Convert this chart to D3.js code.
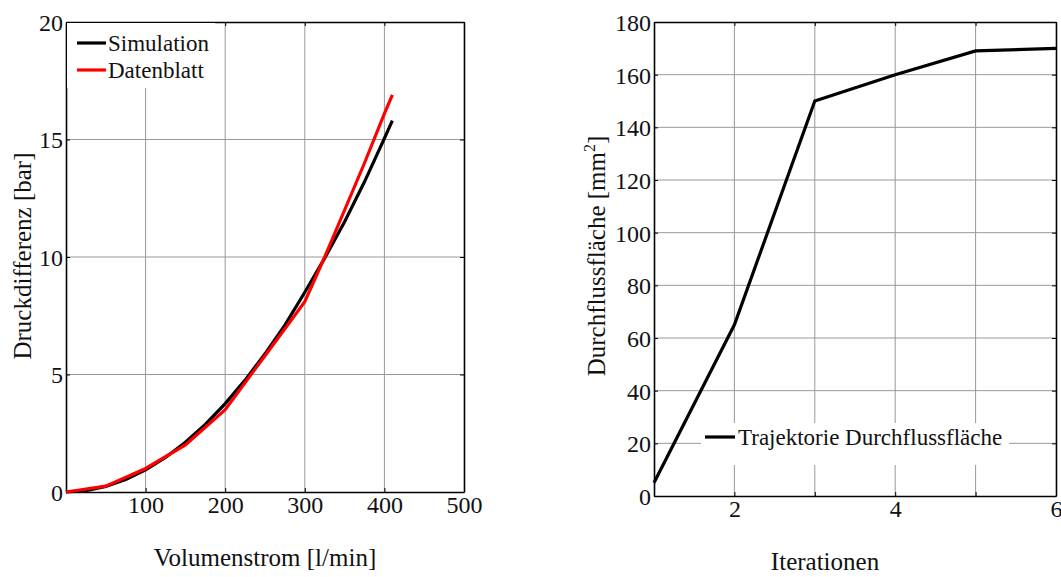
<!DOCTYPE html>
<html>
<head>
<meta charset="utf-8">
<script src="https://cdn.jsdelivr.net/npm/d3@7"></script>
<style>
  body { margin: 0; background: #fff; }
  svg text { font-family: "Liberation Serif", "Times New Roman", serif; fill: #111; }
</style>
</head>
<body>
<div id="chart"></div>
<script>
// Daten linkes Diagramm (Volumenstrom [l/min] -> Druckdifferenz [bar])
const simQ = [0, 25, 50, 75, 100, 125, 150, 175, 200, 225, 250, 275, 300, 325, 350, 375, 400, 410];
const simP = [0, 0.06, 0.24, 0.53, 0.94, 1.47, 2.12, 2.88, 3.76, 4.76, 5.88, 7.1, 8.5, 9.95, 11.5, 13.2, 15.05, 15.8];
const datQ = [0, 50, 100, 150, 200, 250, 300, 325, 350, 375, 400, 410];
const datP = [0, 0.25, 1.0, 2.0, 3.5, 5.8, 8.1, 10.0, 12.0, 14.0, 16.1, 16.9];
const leftXTicks = [0, 100, 200, 300, 400, 500];
const leftYTicks = [0, 5, 10, 15, 20];

// Daten rechtes Diagramm (Iterationen -> Durchflussfläche)
const iter = [1, 2, 3, 4, 5, 6];
const flaeche = [5, 65, 150, 160, 169, 170];
const rightXTicks = [1, 2, 3, 4, 5, 6];
const rightYTicks = [0, 20, 40, 60, 80, 100, 120, 140, 160, 180];

const width = 1061, height = 577;
const fsTick = 24, fsLeg = 23, fsTitle = 25;

const svg = d3.select("#chart").append("svg")
    .attr("width", width)
    .attr("height", height);

function panel(box, xDom, yDom, xTicks, yTicks, xLabelFilter) {
    const x = d3.scaleLinear().domain(xDom).range([box.x0, box.x1]);
    const y = d3.scaleLinear().domain(yDom).range([box.y1, box.y0]);
    const g = svg.append("g");

    // Gitter
    g.selectAll(".gx").data(xTicks.filter(t => t > xDom[0] && t < xDom[1])).enter()
        .append("line")
        .attr("x1", d => x(d)).attr("x2", d => x(d))
        .attr("y1", box.y0).attr("y2", box.y1)
        .attr("stroke", "#999").attr("stroke-width", 1);
    g.selectAll(".gy").data(yTicks.filter(t => t > yDom[0] && t < yDom[1])).enter()
        .append("line")
        .attr("y1", d => y(d)).attr("y2", d => y(d))
        .attr("x1", box.x0).attr("x2", box.x1)
        .attr("stroke", "#999").attr("stroke-width", 1);

    // Achsen mit Ticks nach innen
    const ax = [
        d3.axisBottom(x).tickValues(xTicks).tickSizeInner(-4).tickSizeOuter(0)
            .tickFormat(d => xLabelFilter(d) ? d : ""),
        d3.axisTop(x).tickValues(xTicks).tickSizeInner(-4).tickSizeOuter(0).tickFormat(""),
        d3.axisLeft(y).tickValues(yTicks).tickSizeInner(-4).tickSizeOuter(0),
        d3.axisRight(y).tickValues(yTicks).tickSizeInner(-4).tickSizeOuter(0).tickFormat("")
    ];
    const pos = [
        `translate(0,${box.y1})`, `translate(0,${box.y0})`,
        `translate(${box.x0},0)`, `translate(${box.x1},0)`
    ];
    ax.forEach((a, i) => {
        const ag = g.append("g").attr("transform", pos[i]).call(a);
        ag.select(".domain").attr("stroke", "#000").attr("stroke-width", 1.6);
        ag.selectAll(".tick line").attr("stroke", "#000");
        ag.selectAll("text").attr("font-size", fsTick)
            .attr("font-family", "Liberation Serif").attr("fill", "#111");
        if (i === 0) ag.selectAll("text").attr("y", 4).attr("dy", "0.71em");
        if (i === 2) ag.selectAll("text").attr("x", -3).attr("dy", "0.35em");
    });
    return {x, y, g};
}

// Linkes Diagramm
const L = panel({x0: 66, x1: 464, y0: 22, y1: 492}, [0, 500], [0, 20],
    leftXTicks, leftYTicks, d => d > 0);

const lineL = d3.line().x(d => L.x(d[0])).y(d => L.y(d[1]));
L.g.append("path").datum(d3.zip(simQ, simP))
    .attr("d", lineL).attr("fill", "none").attr("stroke", "#000").attr("stroke-width", 3.2);
L.g.append("path").datum(d3.zip(datQ, datP))
    .attr("d", lineL).attr("fill", "none").attr("stroke", "#f00").attr("stroke-width", 3.2);

// Legende links
const legL = L.g.append("g");
legL.append("rect").attr("x", 67).attr("y", 23).attr("width", 148).attr("height", 65).attr("fill", "#fff");
[["Simulation", "#000"], ["Datenblatt", "#f00"]].forEach((s, i) => {
    const yy = 43 + i * 27;
    legL.append("line").attr("x1", 77).attr("x2", 106).attr("y1", yy).attr("y2", yy)
        .attr("stroke", s[1]).attr("stroke-width", 3.2);
    legL.append("text").attr("x", 108).attr("y", yy + 8).attr("font-size", fsLeg).text(s[0]);
});

svg.append("text").attr("x", 265).attr("y", 566).attr("text-anchor", "middle")
    .attr("font-size", fsTitle).text("Volumenstrom [l/min]");
svg.append("text").attr("transform", "translate(31,256) rotate(-90)")
    .attr("text-anchor", "middle").attr("font-size", fsTitle).text("Druckdifferenz [bar]");

// Rechtes Diagramm
const R = panel({x0: 654, x1: 1056, y0: 22, y1: 496}, [1, 6], [0, 180],
    rightXTicks, rightYTicks, d => d % 2 === 0);

// Legende rechts (unter der Kurve)
const legR = R.g.append("g");
legR.append("rect").attr("x", 701).attr("y", 423).attr("width", 308).attr("height", 42).attr("fill", "#fff");
legR.append("line").attr("x1", 705).attr("x2", 735).attr("y1", 437).attr("y2", 437)
    .attr("stroke", "#000").attr("stroke-width", 3.2);
legR.append("text").attr("x", 738).attr("y", 445).attr("font-size", fsLeg).text("Trajektorie Durchflussfläche");

const lineR = d3.line().x((d, i) => R.x(iter[i])).y(d => R.y(d));
R.g.append("path").datum(flaeche)
    .attr("d", lineR).attr("fill", "none").attr("stroke", "#000").attr("stroke-width", 3.2);

svg.append("text").attr("x", 825).attr("y", 570).attr("text-anchor", "middle")
    .attr("font-size", fsTitle).text("Iterationen");
const yt = svg.append("text").attr("transform", "translate(605,256) rotate(-90)")
    .attr("text-anchor", "middle").attr("font-size", fsTitle);
yt.append("tspan").text("Durchflussfläche [mm");
yt.append("tspan").attr("font-size", 16).attr("dy", -10).text("2");
yt.append("tspan").attr("dy", 10).text("]");
</script>
</body>
</html>
